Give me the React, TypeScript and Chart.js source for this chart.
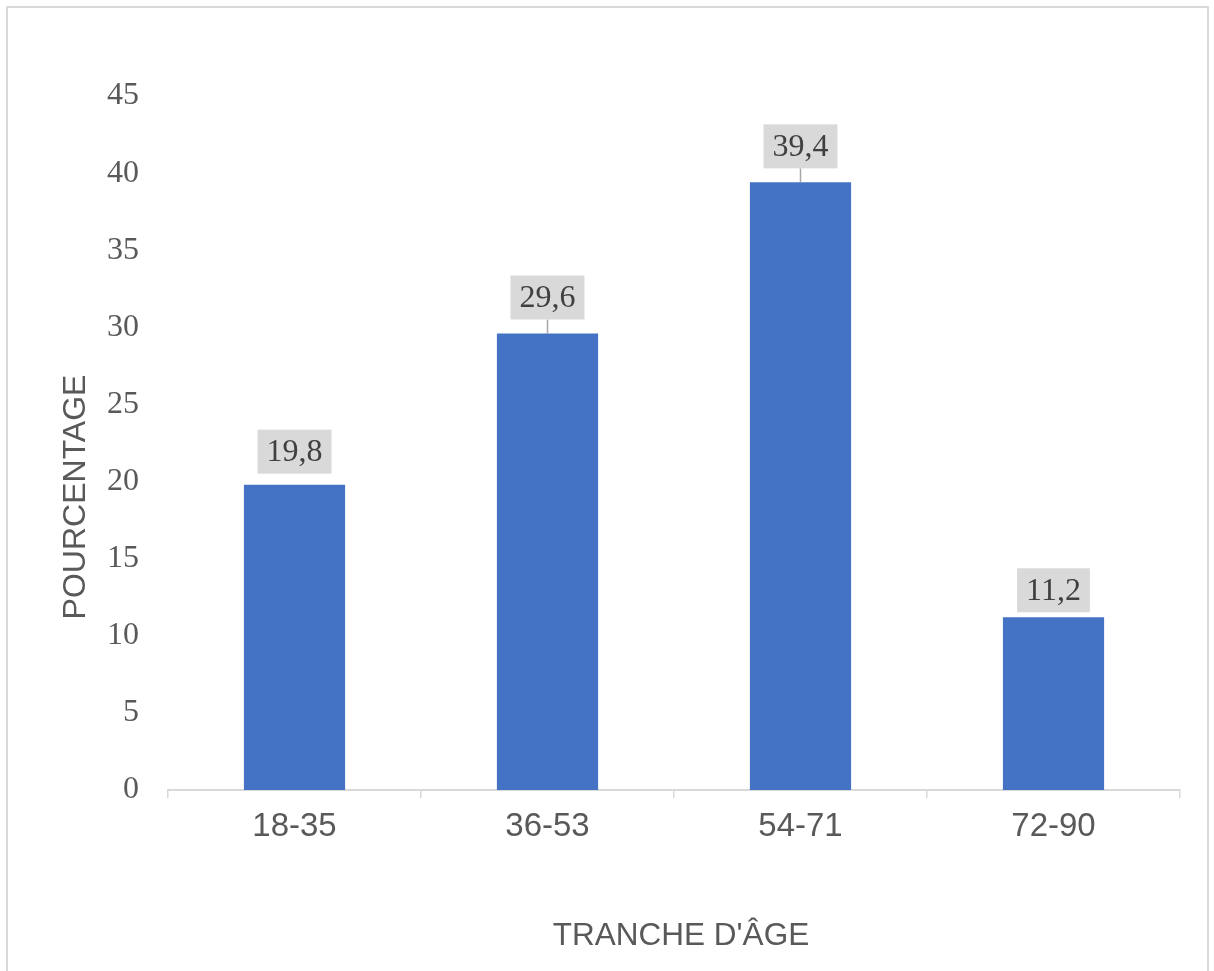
import React, { useEffect, useRef } from "react";
import { Chart, registerables } from "chart.js";

Chart.register(...registerables);

const categories = ["18-35", "36-53", "54-71", "72-90"];
const percentages = [19.8, 29.6, 39.4, 11.2];
const valueLabels = ["19,8", "29,6", "39,4", "11,2"];
const yTickValues = [0, 5, 10, 15, 20, 25, 30, 35, 40, 45];
const xTitle = "TRANCHE D'ÂGE";
const yTitle = "POURCENTAGE";

const labelGaps = [11, 14, 14, 5];

const framePlugin = {
  id: "frame",
  beforeDraw(chart: any) {
    const ctx = chart.ctx;
    ctx.save();
    ctx.fillStyle = "#ffffff";
    ctx.fillRect(0, 0, chart.width, chart.height);
    ctx.strokeStyle = "#d9d9d9";
    ctx.lineWidth = 2;
    ctx.strokeRect(7, 7, 1201, 1000);
    ctx.restore();
  },
};

const titlesPlugin = {
  id: "titles",
  afterDraw(chart: any) {
    const ctx = chart.ctx;
    const area = chart.chartArea;
    ctx.save();
    ctx.fillStyle = "#595959";
    ctx.textAlign = "center";
    ctx.textBaseline = "middle";
    ctx.font = "31.5px 'Liberation Sans', Arial, sans-serif";
    ctx.fillText(xTitle, (area.left + area.right) / 2 + 7, 936);
    ctx.font = "32px 'Liberation Sans', Arial, sans-serif";
    ctx.translate(76, 497);
    ctx.rotate(-Math.PI / 2);
    ctx.fillText(yTitle, 0, 0);
    ctx.restore();
  },
};

const dataLabelPlugin = {
  id: "boxLabels",
  afterDatasetsDraw(chart: any) {
    const ctx = chart.ctx;
    const meta = chart.getDatasetMeta(0);
    ctx.save();
    ctx.font = "32px 'Liberation Serif', 'Times New Roman', serif";
    ctx.textAlign = "center";
    ctx.textBaseline = "middle";
    meta.data.forEach((bar: any, i: number) => {
      const text = valueLabels[i];
      const w = ctx.measureText(text).width + 18;
      const h = 44;
      const gap = labelGaps[i];
      const bottom = bar.y - gap;
      const top = bottom - h;
      if (gap > 12) {
        ctx.strokeStyle = "#a6a6a6";
        ctx.lineWidth = 1.5;
        ctx.beginPath();
        ctx.moveTo(bar.x, bottom);
        ctx.lineTo(bar.x, bar.y);
        ctx.stroke();
      }
      ctx.fillStyle = "#d9d9d9";
      ctx.fillRect(bar.x - w / 2, top, w, h);
      ctx.fillStyle = "#404040";
      ctx.fillText(text, bar.x, top + h / 2 + 1);
    });
    ctx.restore();
  },
};

export default function App() {
  const canvasRef = useRef<HTMLCanvasElement | null>(null);

  useEffect(() => {
    if (!canvasRef.current) return;
    const chart = new Chart(canvasRef.current, {
      type: "bar",
      data: {
        labels: categories,
        datasets: [
          {
            data: percentages,
            backgroundColor: "#4472C4",
            borderWidth: 0,
            categoryPercentage: 1,
            barPercentage: 0.4,
          },
        ],
      },
      options: {
        responsive: false,
        animation: false,
        devicePixelRatio: 1,
        layout: { padding: { top: 96, right: 34, left: 0, bottom: 0 } },
        plugins: {
          legend: { display: false },
          tooltip: { enabled: false },
          title: { display: false },
        },
        scales: {
          x: {
            afterFit: (s: any) => {
              s.height = 181;
            },
            grid: {
              display: true,
              drawOnChartArea: false,
              drawTicks: true,
              tickLength: 8,
              color: "#d9d9d9",
              lineWidth: 1.5,
              offset: true,
            },
            border: { display: true, color: "#d9d9d9", width: 2 },
            ticks: {
              color: "#595959",
              padding: 9,
              font: { family: "'Liberation Sans', Arial, sans-serif", size: 33 },
            },
          },
          y: {
            min: 0,
            max: 45,
            afterFit: (s: any) => {
              s.width = 168;
            },
            afterBuildTicks: (s: any) => {
              s.ticks = yTickValues.map((v) => ({ value: v }));
            },
            grid: { display: false, drawTicks: false },
            border: { display: false },
            ticks: {
              color: "#595959",
              padding: 29,
              font: { family: "'Liberation Serif', 'Times New Roman', serif", size: 32 },
            },
          },
        },
      },
      plugins: [framePlugin, dataLabelPlugin, titlesPlugin],
    });
    return () => chart.destroy();
  }, []);

  return (
    <div style={{ position: "fixed", left: 0, top: 0, width: 1214, height: 971, background: "#fff" }}>
      <canvas ref={canvasRef} width={1214} height={971} style={{ width: 1214, height: 971, display: "block" }} />
    </div>
  );
}
